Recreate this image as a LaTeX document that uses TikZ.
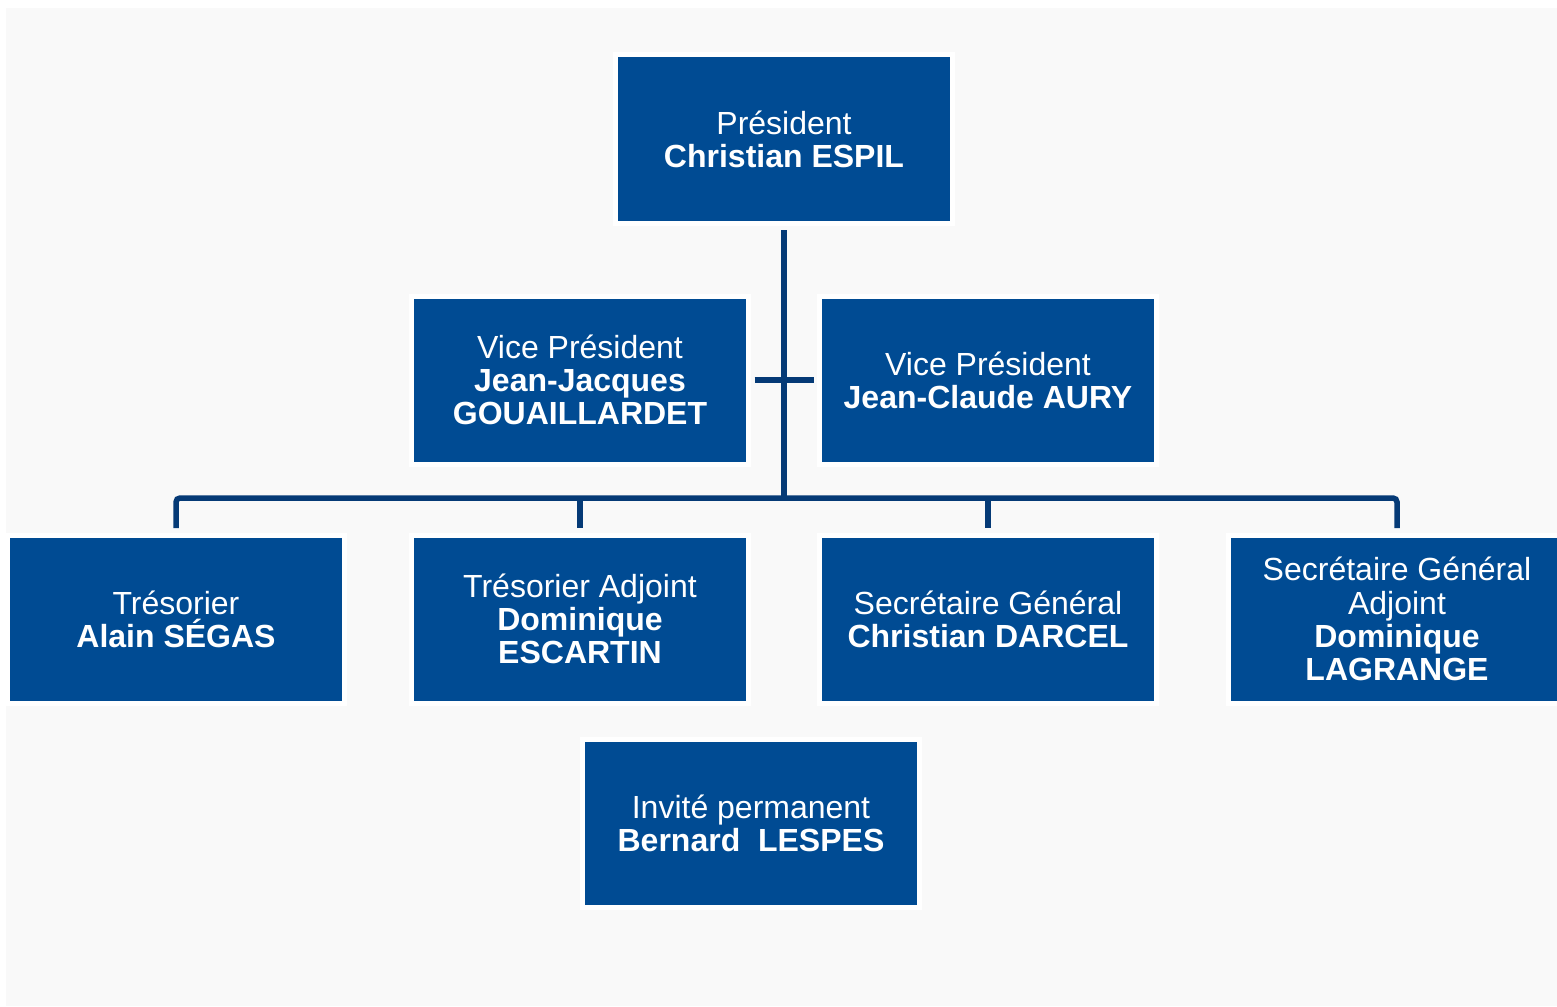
\documentclass[tikz,border=0pt]{standalone}
\usepackage{fontspec}
\setmainfont{Liberation Sans}
\definecolor{boxblue}{RGB}{0,75,147}
\definecolor{linkblue}{RGB}{5,58,118}
\definecolor{paper}{RGB}{249,249,249}

\begin{document}
\begin{tikzpicture}[x=0.5pt,y=-0.5pt,
    member/.style ={rectangle, draw=white, line width=2.5pt, fill=boxblue,
      text=white, align=center, minimum width=168.5pt, minimum height=84pt,
      inner sep=0pt, font=\fontsize{16}{16.6}\selectfont},
    link/.style ={draw=linkblue, line width=2.75pt}]
   \useasboundingbox (0,0) rectangle (1557,1006);
   \fill[paper] (6,8) rectangle (1557,1006);
   % bureau
   \node[member] (pres) at (784,139)  {Président\\\textbf{Christian ESPIL}};
   \node[member] (vp1)  at (580,380)  {Vice Président\\\textbf{Jean-Jacques}\\\textbf{GOUAILLARDET}};
   \node[member] (vp2)  at (988,380)  {Vice Président\\\textbf{Jean-Claude AURY}};
   \node[member] (tres) at (176,619)  {Trésorier\\\textbf{Alain SÉGAS}};
   \node[member] (tresa) at (580,619) {Trésorier Adjoint\\\textbf{Dominique}\\\textbf{ESCARTIN}};
   \node[member] (sg)   at (988,619)  {Secrétaire Général\\\textbf{Christian DARCEL}};
   \node[member] (sga)  at (1397,619) {Secrétaire Général\\Adjoint\\\textbf{Dominique}\\\textbf{LAGRANGE}};
   \node[member] (inv)  at (751,823)  {Invité permanent\\\textbf{Bernard\ \ LESPES}};
   \coordinate (bus) at (784,498);
   % liaisons
   \draw[link, shorten <=2.25pt] (pres.south) -- (bus);
   \draw[link, shorten <=1.75pt, shorten >=1.75pt] (vp1.east) -- (vp2.west);
   \draw[link, rounded corners=2pt, shorten <=2.25pt, shorten >=2.25pt] (tres.north) |- (bus) -| (sga.north);
   \draw[link, shorten >=2.25pt] (tresa.north |- bus) -- (tresa.north);
   \draw[link, shorten >=2.25pt] (sg.north |- bus) -- (sg.north);
 \end{tikzpicture}
\end{document}
